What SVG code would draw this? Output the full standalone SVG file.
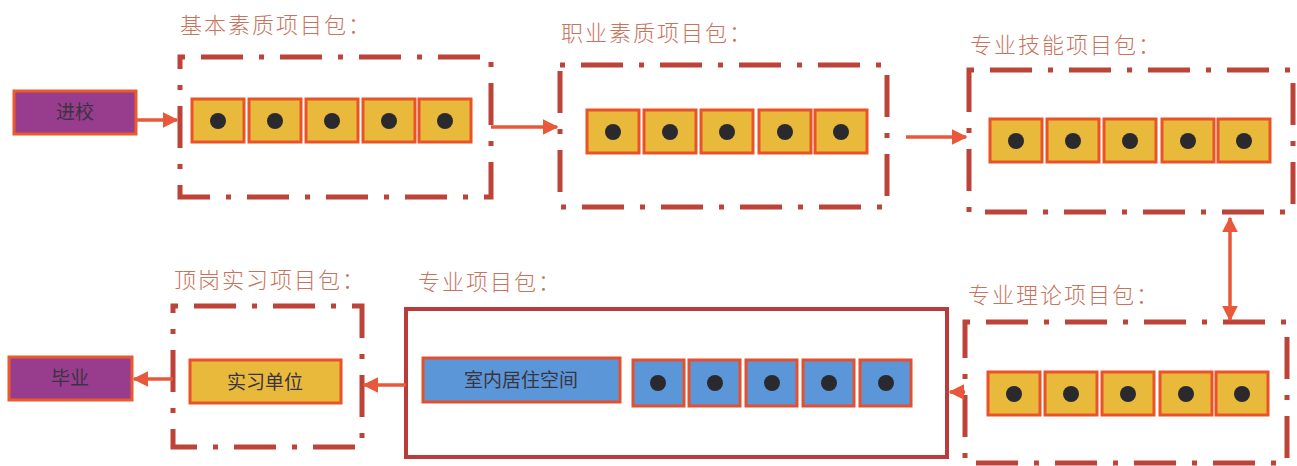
<svg xmlns="http://www.w3.org/2000/svg" width="1297" height="466" viewBox="0 0 1297 466">
<style>
.pkg{fill:none;stroke:#bd4339;stroke-width:5;stroke-dasharray:42 16 5 16;stroke-dashoffset:58}
.solid{fill:none;stroke:#b93c3a;stroke-width:4}
.item{fill:#e9b93c;stroke:#ea5328;stroke-width:3}
.bitem{fill:#5b97d8;stroke:#e4502e;stroke-width:3}
.dot{fill:#2a2a2e}
.ends{fill:#983c8e;stroke:#ec5a2c;stroke-width:3}
.lbl{font-family:"Noto Sans CJK SC",sans-serif;font-size:22px;font-weight:300;fill:#c8735c;letter-spacing:2px}
.t{font-family:"Noto Sans CJK SC",sans-serif;font-size:19px;fill:#3a3440;text-anchor:middle}
.c{stroke:#e9583a;stroke-width:3.5;fill:none}
</style>
<defs>
<marker id="ah" viewBox="0 0 10 10" refX="9" refY="5" markerWidth="4.6" markerHeight="4.6" orient="auto-start-reverse" markerUnits="strokeWidth">
<path d="M0,0 L10,5 L0,10 z" fill="#e9583a"/>
</marker>
</defs>

<g id="n-start">
<rect class="ends" x="14" y="91" width="122" height="43"/>
<text class="t" x="75" y="119">进校</text>
</g>

<g id="n-basic">
<text class="lbl" x="180" y="33">基本素质项目包：</text>
<rect class="pkg" x="180" y="57" width="311" height="140"/>
<rect class="item" x="192" y="99" width="52" height="43"/><circle class="dot" cx="218" cy="121" r="8"/>
<rect class="item" x="249" y="99" width="52" height="43"/><circle class="dot" cx="275" cy="121" r="8"/>
<rect class="item" x="306" y="99" width="52" height="43"/><circle class="dot" cx="332" cy="121" r="8"/>
<rect class="item" x="363" y="99" width="52" height="43"/><circle class="dot" cx="389" cy="121" r="8"/>
<rect class="item" x="419" y="99" width="52" height="43"/><circle class="dot" cx="445" cy="121" r="8"/>
</g>

<g id="n-prof">
<text class="lbl" x="561" y="41">职业素质项目包：</text>
<rect class="pkg" x="560" y="65" width="327" height="142"/>
<rect class="item" x="587" y="110" width="52" height="43"/><circle class="dot" cx="613" cy="132" r="8"/>
<rect class="item" x="644" y="110" width="52" height="43"/><circle class="dot" cx="670" cy="132" r="8"/>
<rect class="item" x="701" y="110" width="52" height="43"/><circle class="dot" cx="727" cy="132" r="8"/>
<rect class="item" x="759" y="110" width="52" height="43"/><circle class="dot" cx="785" cy="132" r="8"/>
<rect class="item" x="815" y="110" width="52" height="43"/><circle class="dot" cx="841" cy="132" r="8"/>
</g>

<g id="n-skill">
<text class="lbl" x="970" y="53">专业技能项目包：</text>
<rect class="pkg" x="969" y="70" width="324" height="142"/>
<rect class="item" x="990" y="119" width="52" height="43"/><circle class="dot" cx="1016" cy="141" r="8"/>
<rect class="item" x="1047" y="119" width="52" height="43"/><circle class="dot" cx="1073" cy="141" r="8"/>
<rect class="item" x="1104" y="119" width="52" height="43"/><circle class="dot" cx="1130" cy="141" r="8"/>
<rect class="item" x="1162" y="119" width="52" height="43"/><circle class="dot" cx="1188" cy="141" r="8"/>
<rect class="item" x="1218" y="119" width="52" height="43"/><circle class="dot" cx="1244" cy="141" r="8"/>
</g>

<g id="n-theory">
<text class="lbl" x="968" y="303">专业理论项目包：</text>
<rect class="pkg" x="965" y="322" width="322" height="141"/>
<rect class="item" x="988" y="372" width="52" height="43"/><circle class="dot" cx="1014" cy="394" r="8"/>
<rect class="item" x="1045" y="372" width="52" height="43"/><circle class="dot" cx="1071" cy="394" r="8"/>
<rect class="item" x="1102" y="372" width="52" height="43"/><circle class="dot" cx="1128" cy="394" r="8"/>
<rect class="item" x="1160" y="372" width="52" height="43"/><circle class="dot" cx="1186" cy="394" r="8"/>
<rect class="item" x="1216" y="372" width="52" height="43"/><circle class="dot" cx="1242" cy="394" r="8"/>
</g>

<g id="n-major">
<text class="lbl" x="418" y="290">专业项目包：</text>
<rect class="solid" x="406" y="309" width="541" height="148"/>
<rect class="bitem" x="423" y="358" width="197" height="44"/>
<text class="t" x="521" y="387">室内居住空间</text>
<rect class="bitem" x="633" y="360" width="51" height="46"/><circle class="dot" cx="658" cy="383" r="8"/>
<rect class="bitem" x="689" y="360" width="51" height="46"/><circle class="dot" cx="715" cy="383" r="8"/>
<rect class="bitem" x="746" y="360" width="51" height="46"/><circle class="dot" cx="772" cy="383" r="8"/>
<rect class="bitem" x="803" y="360" width="51" height="46"/><circle class="dot" cx="829" cy="383" r="8"/>
<rect class="bitem" x="860" y="360" width="51" height="46"/><circle class="dot" cx="886" cy="383" r="8"/>
</g>

<g id="n-intern">
<text class="lbl" x="174" y="288">顶岗实习项目包：</text>
<rect class="pkg" x="173" y="306" width="189" height="141"/>
<rect class="item" x="190" y="360" width="151" height="43"/>
<text class="t" x="265" y="389">实习单位</text>
</g>

<g id="n-end">
<rect class="ends" x="9" y="357" width="123" height="43"/>
<text class="t" x="70" y="385">毕业</text>
</g>

<g id="connectors">
<line class="c" x1="136" y1="120" x2="177" y2="120" marker-end="url(#ah)"/>
<line class="c" x1="491" y1="127" x2="557" y2="127" marker-end="url(#ah)"/>
<line class="c" x1="906" y1="137" x2="966" y2="137" marker-end="url(#ah)"/>
<line class="c" x1="1230" y1="218" x2="1230" y2="320" marker-start="url(#ah)" marker-end="url(#ah)"/>
<line class="c" x1="965" y1="392" x2="950" y2="392" marker-end="url(#ah)"/>
<line class="c" x1="406" y1="385" x2="364" y2="385" marker-end="url(#ah)"/>
<line class="c" x1="173" y1="379" x2="134" y2="379" marker-end="url(#ah)"/>
</g>
</svg>
